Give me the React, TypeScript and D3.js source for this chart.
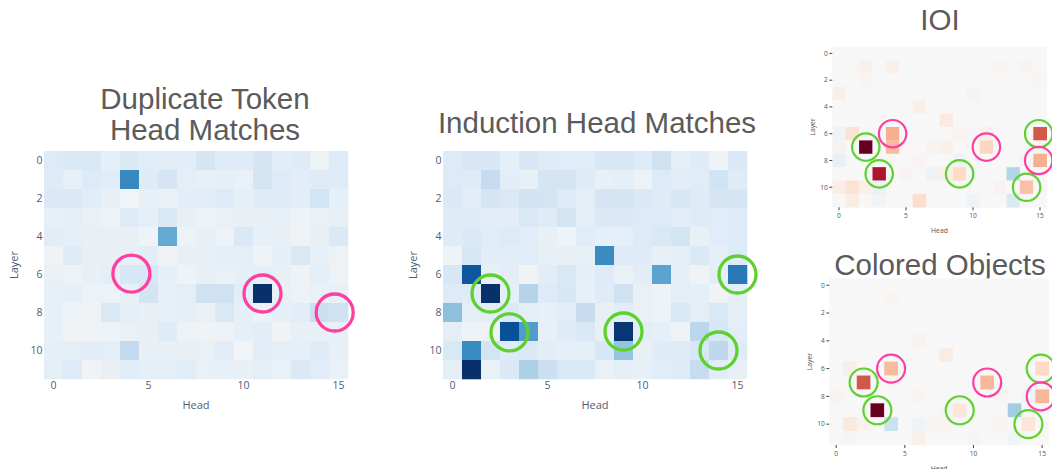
import React from 'react';
import * as d3 from 'd3';

// ---------- data ----------
const HEADS = d3.range(16);
const LAYERS = d3.range(12);
const X_TICKS = [0, 5, 10, 15];
const Y_TICKS = [0, 2, 4, 6, 8, 10];

// Duplicate token head match scores (layer x head), 0..1
const DUP_TOKEN: number[][] = [
  [0.13, 0.15, 0.15, 0.08, 0.14, 0.11, 0.10, 0.10, 0.17, 0.12, 0.12, 0.17, 0.10, 0.12, 0.04, 0.13],
  [0.12, 0.07, 0.13, 0.11, 0.66, 0.12, 0.17, 0.09, 0.07, 0.08, 0.05, 0.18, 0.13, 0.10, 0.12, 0.12],
  [0.14, 0.14, 0.11, 0.06, 0.01, 0.07, 0.05, 0.10, 0.10, 0.13, 0.08, 0.12, 0.12, 0.10, 0.18, 0.08],
  [0.07, 0.09, 0.05, 0.04, 0.12, 0.08, 0.15, 0.06, 0.03, 0.05, 0.06, 0.06, 0.07, 0.03, 0.05, 0.07],
  [0.10, 0.08, 0.06, 0.06, 0.06, 0.03, 0.52, 0.04, 0.07, 0.04, 0.14, 0.07, 0.06, 0.02, 0.06, 0.14],
  [0.02, 0.12, 0.06, 0.06, 0.06, 0.10, 0.02, 0.06, 0.07, 0.09, 0.09, 0.03, 0.08, 0.15, 0.07, 0.04],
  [0.05, 0.04, 0.06, 0.09, 0.16, 0.16, 0.08, 0.03, 0.07, 0.05, 0.08, 0.08, 0.06, 0.03, 0.09, 0.04],
  [0.07, 0.08, 0.04, 0.04, 0.07, 0.18, 0.07, 0.09, 0.20, 0.20, 0.10, 1.00, 0.06, 0.04, 0.05, 0.07],
  [0.07, 0.03, 0.02, 0.15, 0.09, 0.06, 0.07, 0.08, 0.05, 0.15, 0.08, 0.04, 0.08, 0.10, 0.22, 0.20],
  [0.07, 0.02, 0.02, 0.04, 0.05, 0.06, 0.12, 0.04, 0.02, 0.04, 0.08, 0.10, 0.02, 0.07, 0.07, 0.06],
  [0.08, 0.09, 0.10, 0.09, 0.26, 0.06, 0.06, 0.06, 0.05, 0.10, 0.01, 0.10, 0.09, 0.08, 0.12, 0.07],
  [0.09, 0.13, 0.02, 0.06, 0.11, 0.08, 0.08, 0.11, 0.05, 0.07, 0.06, 0.09, 0.05, 0.14, 0.11, 0.05],
];

// Induction head match scores (layer x head), 0..1
const INDUCTION: number[][] = [
  [0.13, 0.16, 0.16, 0.08, 0.16, 0.12, 0.11, 0.11, 0.16, 0.16, 0.13, 0.20, 0.09, 0.12, 0.03, 0.14],
  [0.13, 0.12, 0.25, 0.10, 0.07, 0.17, 0.17, 0.12, 0.07, 0.09, 0.04, 0.13, 0.10, 0.11, 0.19, 0.12],
  [0.14, 0.10, 0.17, 0.14, 0.19, 0.18, 0.13, 0.09, 0.17, 0.17, 0.14, 0.12, 0.16, 0.12, 0.17, 0.17],
  [0.12, 0.12, 0.10, 0.10, 0.15, 0.12, 0.18, 0.09, 0.14, 0.14, 0.13, 0.13, 0.10, 0.12, 0.11, 0.13],
  [0.12, 0.14, 0.11, 0.13, 0.10, 0.06, 0.03, 0.11, 0.08, 0.08, 0.13, 0.15, 0.18, 0.06, 0.11, 0.13],
  [0.03, 0.16, 0.10, 0.10, 0.11, 0.07, 0.07, 0.07, 0.65, 0.13, 0.12, 0.07, 0.08, 0.14, 0.08, 0.13],
  [0.16, 0.85, 0.06, 0.10, 0.02, 0.10, 0.15, 0.08, 0.13, 0.05, 0.10, 0.55, 0.08, 0.02, 0.09, 0.72],
  [0.13, 0.12, 1.00, 0.08, 0.30, 0.13, 0.16, 0.07, 0.12, 0.20, 0.05, 0.03, 0.09, 0.08, 0.03, 0.08],
  [0.42, 0.09, 0.10, 0.14, 0.09, 0.07, 0.10, 0.24, 0.06, 0.10, 0.05, 0.04, 0.15, 0.09, 0.15, 0.08],
  [0.09, 0.03, 0.04, 0.88, 0.58, 0.07, 0.12, 0.14, 0.06, 0.98, 0.10, 0.08, 0.03, 0.28, 0.16, 0.10],
  [0.15, 0.65, 0.18, 0.12, 0.14, 0.10, 0.08, 0.09, 0.16, 0.40, 0.06, 0.12, 0.12, 0.16, 0.27, 0.12],
  [0.09, 1.00, 0.05, 0.14, 0.33, 0.22, 0.15, 0.15, 0.05, 0.09, 0.07, 0.11, 0.12, 0.24, 0.10, 0.07],
];

// IOI patching effect (layer x head), -1..1
const IOI: number[][] = [
  [0, 0, 0, 0, 0, 0, 0, 0, 0, 0, 0, 0, 0, 0, 0, 0],
  [0, 0.01, 0.05, 0, 0.05, 0, 0, 0, 0, 0, 0, 0, 0.02, -0.01, 0.03, 0],
  [0, 0, 0.02, 0, 0, 0, 0, 0, 0, 0, 0, 0, 0, 0, 0, 0.02],
  [0.06, 0, 0, 0, 0, 0, 0, 0, 0, 0, 0.03, 0, 0, 0, 0, 0],
  [0, 0, 0.01, 0, 0, 0, 0.06, 0, 0, 0, -0.01, 0.01, 0, 0, 0, 0],
  [0, 0, 0, 0, 0, 0, 0, 0, 0.09, 0, 0, 0, 0, 0, 0, 0],
  [-0.04, 0.15, 0, 0, 0.36, 0, 0, 0, 0, 0.03, -0.02, 0.05, 0, 0, 0, 0.62],
  [0.04, 0, 1.00, 0, 0.32, 0.01, 0, 0.03, 0.05, 0, 0, 0.22, 0, 0, 0, 0.03],
  [-0.08, 0, 0, 0, 0, 0, 0.03, 0, 0, -0.05, 0, 0, 0, 0, -0.02, 0.36],
  [0, 0, 0, 0.82, 0, 0.03, 0, -0.06, 0.06, 0.2, 0, 0, 0, -0.3, 0, 0],
  [0.07, 0.15, 0.05, -0.07, 0, 0, 0, 0, 0, 0, 0, 0, 0.03, 0, 0.3, 0],
  [0, 0.08, 0, -0.03, 0, 0, 0.18, 0, 0, 0, -0.04, 0, 0, -0.15, 0, 0],
];

// Colored Objects patching effect (layer x head), -1..1
const COLORED: number[][] = [
  [0, 0, 0, 0, 0, 0, 0, 0, 0, 0, 0, 0, 0, 0, 0, 0],
  [0, 0, 0, 0, 0.02, 0, 0, 0, 0, 0, 0, 0, 0, 0, 0, 0],
  [0, 0, 0, 0, 0, 0, 0, 0, 0, 0, 0, 0, 0, 0, 0, 0],
  [0, 0, 0, 0, 0, 0, 0, 0, 0, 0, 0, 0, 0, 0, 0, 0],
  [0, 0, 0, 0, 0, 0, 0.03, 0, 0, 0, 0, 0, 0, 0, 0, 0],
  [0, 0, 0, 0, 0, 0, 0, 0, 0.08, 0, 0, 0, 0, 0, 0, 0],
  [0, 0.06, 0, 0, 0.32, 0, 0, 0, 0, 0.01, 0, 0, 0, 0, 0, 0.2],
  [0, 0, 0.62, 0, 0.02, 0, 0, 0, 0, 0, -0.01, 0.33, 0, 0, 0, 0],
  [0.03, 0, 0, 0, 0, 0, 0.02, 0, 0, 0, 0, 0, 0.02, 0, -0.03, 0.33],
  [0, 0, 0, 1.00, 0, 0, 0, 0, 0.02, 0.12, 0, 0, 0, -0.35, 0, 0],
  [0, 0.1, 0.04, 0, -0.22, 0, -0.05, 0.02, 0.02, 0, 0, 0, 0.02, 0, 0.12, 0],
  [0, -0.02, 0, 0, 0, 0, 0.05, 0, 0, 0, -0.02, 0, 0, -0.03, 0, 0],
];

// annotation rings: [head, layer]
const DUP_PINK: [number, number][] = [[4.1, 5.95], [11, 7], [14.8, 8]];
const IND_GREEN: [number, number][] = [[2, 7], [3, 9.05], [9, 9], [15, 6], [14, 10]];
const SMALL_GREEN: [number, number][] = [[2, 7], [3, 9], [9, 9], [14.9, 6], [14, 10]];
const SMALL_PINK: [number, number][] = [[4, 6], [11, 7], [14.9, 8]];

const PINK = '#ff3fa0';
const GREEN = '#5fd12e';

type Ring = { pts: [number, number][]; color: string };

type PanelProps = {
  x: number; y: number; w: number; h: number;
  data: number[][];
  color: (v: number) => string;
  rings: Ring[];
  ringR: number;
  ringW: number;
  small: boolean;
  title: string[];
  titleX: number;
  titleY: number[];
};

function Panel(p: PanelProps) {
  const xb = d3.scaleBand<number>().domain(HEADS).range([p.x, p.x + p.w]);
  const yb = d3.scaleBand<number>().domain(LAYERS).range([p.y, p.y + p.h]);
  const xc = d3.scaleLinear().domain([-0.5, 15.5]).range([p.x, p.x + p.w]);
  const yc = d3.scaleLinear().domain([-0.5, 11.5]).range([p.y, p.y + p.h]);
  const axisColor = p.small ? '#555' : '#4d5d75';
  const fs = p.small ? 6.6 : 10.5;
  const font = "'Open Sans', sans-serif";
  const tickLen = p.small ? 3 : 0;
  const gap = 1.5;
  return (
    <g>
      {p.title.map((t, i) => (
        <text key={i} x={p.titleX} y={p.titleY[i]} textAnchor="middle"
          fontFamily="'Liberation Sans', Arial, sans-serif" fontSize={29.5} fill="#5b5b5b">{t}</text>
      ))}
      {LAYERS.map(l => HEADS.map(hd => (
        <rect key={`${l}-${hd}`} x={xb(hd)} y={yb(l)} width={xb.bandwidth() + 0.3}
          height={yb.bandwidth() + 0.3} fill={p.color(p.data[l][hd])} />
      )))}
      {Y_TICKS.map(t => (
        <g key={`y${t}`}>
          {tickLen > 0 && <line x1={p.x - tickLen} x2={p.x} y1={yc(t)} y2={yc(t)} stroke="#444" strokeWidth={1} />}
          <text x={p.x - tickLen - gap} y={yc(t)} dy="0.35em" textAnchor="end"
            fontFamily={font} fontSize={fs} fill={axisColor}>{t}</text>
        </g>
      ))}
      {X_TICKS.map(t => (
        <g key={`x${t}`}>
          {tickLen > 0 && <line x1={xc(t)} x2={xc(t)} y1={p.y + p.h} y2={p.y + p.h + tickLen} stroke="#444" strokeWidth={1} />}
          <text x={xc(t)} y={p.y + p.h + (p.small ? 10.5 : 10)} textAnchor="middle"
            fontFamily={font} fontSize={fs} fill={axisColor}>{t}</text>
        </g>
      ))}
      <text x={p.x + p.w / 2} y={p.y + p.h + (p.small ? 26 : 29.5)} textAnchor="middle"
        fontFamily={font} fontSize={p.small ? 6.8 : 11} fill={axisColor}>Head</text>
      <text transform={`translate(${p.x - (p.small ? 20 : 30)},${p.y + p.h / 2}) rotate(-90)`}
        textAnchor="middle" dy="0.35em" fontFamily={font} fontSize={p.small ? 6.8 : 11} fill={axisColor}>Layer</text>
      {p.rings.map((r, i) => r.pts.map(([hd, l], j) => (
        <circle key={`${i}-${j}`} cx={xc(hd)} cy={yc(l)} r={p.ringR} fill="none"
          stroke={r.color} strokeWidth={p.ringW} />
      )))}
    </g>
  );
}

const bluesInterp = d3.piecewise(d3.interpolateRgb, ['#f2f5f6', ...d3.schemeBlues[9].slice(1)]);
const rdbuInterp = d3.piecewise(d3.interpolateRgb, [...d3.schemeRdBu[11]]);
const blues = (v: number) => bluesInterp(Math.max(0, Math.min(1, v)));
const rdbu = (v: number) => rdbuInterp(0.5 - Math.max(-1, Math.min(1, v)) / 2);

export default function App() {
  return (
    <svg width={1052} height={469} style={{ position: 'absolute', left: 0, top: 0, background: '#fff' }}>
      <Panel x={44} y={151} w={304} h={228} data={DUP_TOKEN} color={blues}
        rings={[{ pts: DUP_PINK, color: PINK }]} ringR={18.5} ringW={3.3} small={false}
        title={['Duplicate Token', 'Head Matches']} titleX={205} titleY={[108.5, 139.5]} />
      <Panel x={443} y={151} w={304} h={228} data={INDUCTION} color={blues}
        rings={[{ pts: IND_GREEN, color: GREEN }]} ringR={18.5} ringW={3.3} small={false}
        title={['Induction Head Matches']} titleX={597} titleY={[133]} />
      <Panel x={832.3} y={46.7} w={214.4} h={160.6} data={IOI} color={rdbu}
        rings={[{ pts: SMALL_GREEN, color: GREEN }, { pts: SMALL_PINK, color: PINK }]}
        ringR={13.7} ringW={2.2} small={true}
        title={['IOI']} titleX={940} titleY={[29.5]} />
      <Panel x={829.3} y={278.3} w={219.7} h={166.7} data={COLORED} color={rdbu}
        rings={[{ pts: SMALL_GREEN, color: GREEN }, { pts: SMALL_PINK, color: PINK }]}
        ringR={14} ringW={2.2} small={true}
        title={['Colored Objects']} titleX={940} titleY={[275]} />
    </svg>
  );
}
